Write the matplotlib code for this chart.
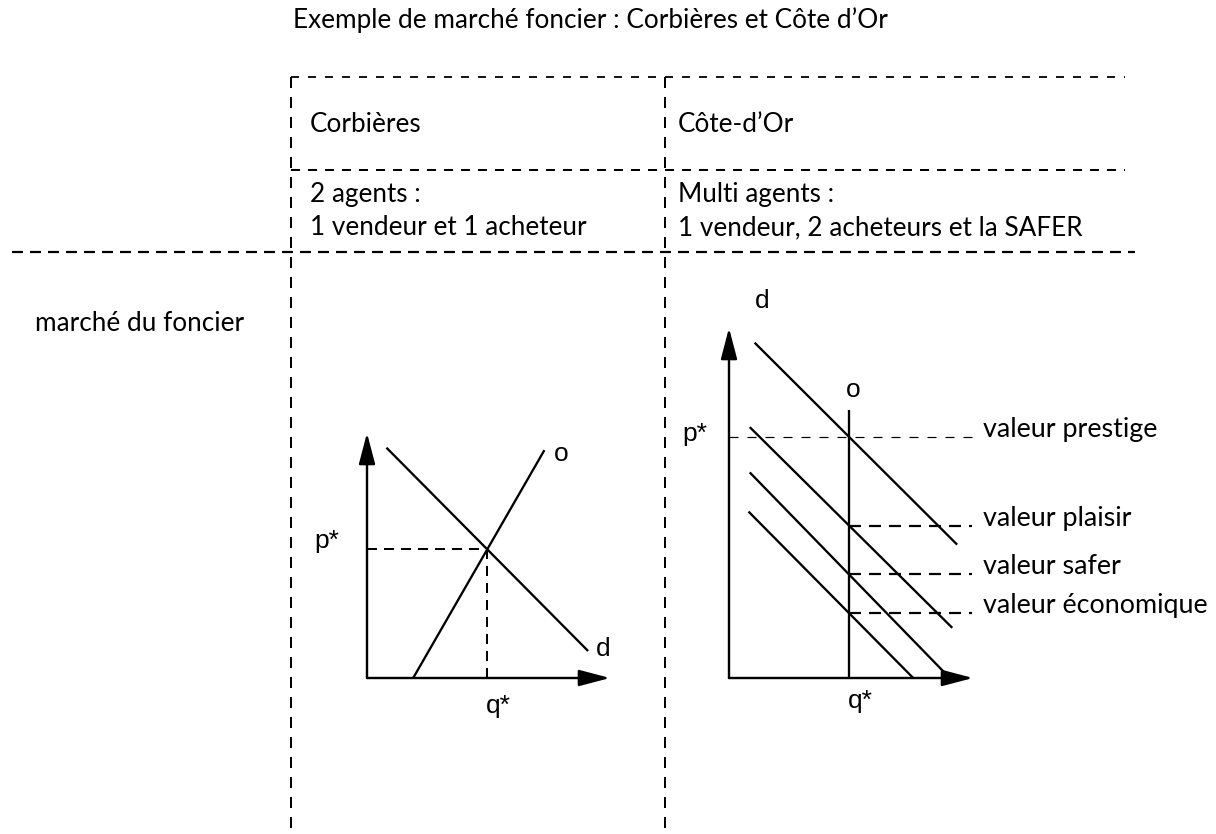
import numpy as np
import matplotlib.pyplot as plt

plt.rcParams['lines.scale_dashes'] = False

W, H, DPI = 1216, 834, 100
PX = 72.0 / DPI  # points per pixel

TEXT_FONT = ['Lato', 'DejaVu Sans']
DIAG_FONT = ['Liberation Sans', 'DejaVu Sans']
TEXT_SIZE = 18.8
LABEL_SIZE = 19

# --- content -------------------------------------------------------------
title = "Exemple de marché foncier : Corbières et Côte d’Or"
columns = ["Corbières", "Côte-d’Or"]
agents_head = ["2 agents :", "Multi agents :"]
agents_detail = ["1 vendeur et 1 acheteur", "1 vendeur, 2 acheteurs et la SAFER"]
row_label = "marché du foncier"

# left diagram: one seller, one buyer (diagram units, 0..10)
left_demand_x = [0.8, 9.1]
left_demand_y = [9.4, 1.1]
left_supply_x = [1.9, 7.3]
left_supply_y = [0.0, 9.3]

# right diagram: fixed supply o at q*, four demand curves
right_labels = ["valeur prestige", "valeur plaisir", "valeur safer", "valeur économique"]
right_demand_x = [[1.05, 9.35], [0.85, 9.15], [0.85, 9.0], [0.8, 7.55]]
right_demand_y = [[13.7, 5.45], [10.25, 2.05], [8.4, 0.05], [6.8, 0.0]]
right_q_star = 4.92
right_supply_top = 10.95


def dash(on_px, off_px):
    return (0, (on_px * PX, off_px * PX))


def intersect(x1, y1, x2, y2):
    a1 = (y1[1] - y1[0]) / (x1[1] - x1[0])
    a2 = (y2[1] - y2[0]) / (x2[1] - x2[0])
    b1 = y1[0] - a1 * x1[0]
    b2 = y2[0] - a2 * x2[0]
    x = (b2 - b1) / (a1 - a2)
    return x, a1 * x + b1


def draw_axes(ax, xmax, ymax):
    style = dict(arrowstyle='-|>,head_length=1.9,head_width=0.5',
                 color='black', lw=2.4 * PX, shrinkA=0, shrinkB=0,
                 mutation_scale=10)
    ax.annotate('', xy=(xmax, 0), xytext=(0, 0), arrowprops=style)
    ax.annotate('', xy=(0, ymax), xytext=(0, 0), arrowprops=style)


fig = plt.figure(figsize=(W / DPI, H / DPI), dpi=DPI)
bg = fig.add_axes([0, 0, 1, 1])
bg.set_xlim(0, W)
bg.set_ylim(H, 0)
bg.axis('off')

# --- table frame ---------------------------------------------------------
bg.plot([291, 1125], [77, 77], ls=dash(8, 9), color='black', lw=1.8 * PX)
bg.plot([291, 1125], [170, 170], ls=dash(9, 8), color='black', lw=2 * PX)
bg.plot([12, 1135], [252, 252], ls=dash(11, 7), color='black', lw=2.2 * PX)
bg.plot([291, 291], [77, H], ls=dash(11, 9), color='black', lw=2 * PX)
bg.plot([665, 665], [77, H], ls=dash(11, 9), color='black', lw=2 * PX)

txt = dict(family=TEXT_FONT, fontsize=TEXT_SIZE, va='baseline', ha='left')
bg.text(293, 28, title, **txt)
for x0, col, head, detail in zip([310, 678], columns, agents_head, agents_detail):
    bg.text(x0, 132, col, **txt)
    bg.text(x0, 202, head, **txt)
    bg.text(x0, 235, detail, **txt)
bg.text(35, 331, row_label, **txt)

lab = dict(family=DIAG_FONT, fontsize=LABEL_SIZE, clip_on=False)
curve_kw = dict(color='black', lw=2.3 * PX, solid_capstyle='butt')

# --- left diagram --------------------------------------------------------
axl = fig.add_axes([367 / W, 1 - 678 / H, 243 / W, 245 / H])
axl.set_xlim(0, 10)
axl.set_ylim(0, 10)
axl.axis('off')
draw_axes(axl, 10, 10)
axl.plot(left_demand_x, left_demand_y, **curve_kw)
axl.plot(left_supply_x, left_supply_y, **curve_kw)
q_l, p_l = intersect(left_demand_x, left_demand_y, left_supply_x, left_supply_y)
axl.plot([0, q_l], [p_l, p_l], ls=dash(10, 7), color='black', lw=2 * PX)
axl.plot([q_l, q_l], [p_l, 0], ls=dash(10, 7), color='black', lw=2 * PX)
axl.text(left_supply_x[1] + 0.4, left_supply_y[1] - 0.15, 'o', ha='left', va='center', **lab)
axl.text(left_demand_x[1] + 0.3, left_demand_y[1] + 0.1, 'd', ha='left', va='center', **lab)
axl.text(-1.15, p_l + 0.35, 'p*', ha='right', va='center', **lab)
axl.text(q_l - 0.05, -1.15, 'q*', ha='left', va='center', **lab)

# --- right diagram -------------------------------------------------------
axr = fig.add_axes([729 / W, 1 - 678 / H, 244 / W, 350 / H])
axr.set_xlim(0, 10)
axr.set_ylim(0, 14.3)
axr.axis('off')
draw_axes(axr, 10, 14.3)
axr.plot([right_q_star, right_q_star], [0, right_supply_top], **curve_kw)
guide_end = 9.96
for i, (label, xs, ys) in enumerate(zip(right_labels, right_demand_x, right_demand_y)):
    axr.plot(xs, ys, **curve_kw)
    level = np.interp(right_q_star, xs, ys)
    if i == 0:
        axr.plot([0, guide_end], [level, level], ls=dash(9, 9), color='black', lw=1.2 * PX)
    else:
        axr.plot([right_q_star, guide_end], [level, level], ls=dash(12, 8), color='black', lw=2.2 * PX)
    axr.text(10.41, level, label, family=TEXT_FONT, fontsize=TEXT_SIZE + 0.6,
             va='baseline', ha='left', clip_on=False)
p_r = np.interp(right_q_star, right_demand_x[0], right_demand_y[0])
axr.text(right_demand_x[0][0] + 0.3, 15.4, 'd', ha='center', va='center', **lab)
axr.text(right_q_star + 0.15, right_supply_top + 0.8, 'o', ha='center', va='center', **lab)
axr.text(-0.9, p_r + 0.1, 'p*', ha='right', va='center', **lab)
axr.text(right_q_star - 0.05, -0.95, 'q*', ha='left', va='center', **lab)

fig.savefig('out.png', dpi=DPI)
